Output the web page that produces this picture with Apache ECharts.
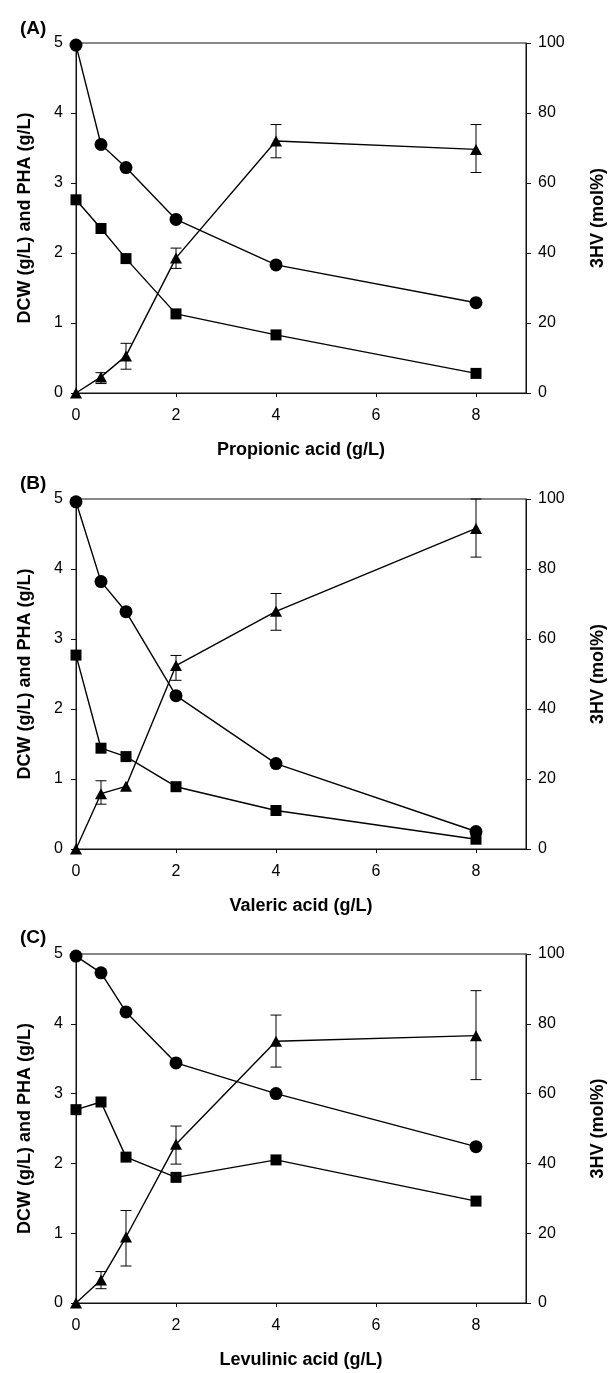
<!DOCTYPE html>
<html>
<head>
<meta charset="utf-8">
<script src="https://cdn.jsdelivr.net/npm/echarts@6/dist/echarts.min.js"></script>
<style>
html,body{margin:0;padding:0;background:#fff;}
#chart{width:608px;height:1373px;}
</style>
</head>
<body>
<div id="chart"></div>
<script>
// ---- data ----
const acidConc = [0, 0.5, 1, 2, 4, 8];
const panelLabels = ['(A)', '(B)', '(C)'];
const xTitles = ['Propionic acid (g/L)', 'Valeric acid (g/L)', 'Levulinic acid (g/L)'];
const leftTitle = 'DCW (g/L) and PHA (g/L)';
const rightTitle = '3HV (mol%)';

// Panel A - propionic acid
const dcwA = [4.97, 3.55, 3.22, 2.48, 1.83, 1.29];
const phaA = [2.76, 2.35, 1.92, 1.13, 0.83, 0.28];
const hvA = [0, 4.6, 10.6, 38.6, 72.0, 69.6];
const hvLoA = [null, 2.7, 6.8, 35.6, 67.2, 63.0];
const hvHiA = [null, 5.8, 14.2, 41.4, 76.7, 76.7];

// Panel B - valeric acid
const dcwB = [4.96, 3.82, 3.39, 2.19, 1.22, 0.25];
const phaB = [2.77, 1.44, 1.32, 0.89, 0.55, 0.14];
const hvB = [0, 15.8, 17.9, 52.4, 67.9, 91.6];
const hvLoB = [null, 12.8, null, 48.2, 62.5, 83.4];
const hvHiB = [null, 19.5, null, 55.3, 73.0, 100.0];

// Panel C - levulinic acid
const dcwC = [4.97, 4.73, 4.17, 3.44, 3.00, 2.24];
const phaC = [2.77, 2.88, 2.09, 1.80, 2.05, 1.46];
const hvC = [0, 6.6, 18.9, 45.5, 75.0, 76.6];
const hvLoC = [null, 4.1, 10.6, 39.8, 67.6, 64.0];
const hvHiC = [null, 9.0, 26.5, 50.7, 82.5, 89.5];

const panels = [
  {dcw: dcwA, pha: phaA, hv: hvA, lo: hvLoA, hi: hvHiA},
  {dcw: dcwB, pha: phaB, hv: hvB, lo: hvLoB, hi: hvHiB},
  {dcw: dcwC, pha: phaC, hv: hvC, lo: hvLoC, hi: hvHiC}
];

// ---- layout ----
const gridTops = [43, 499, 954];
const gridHeights = [350, 350, 349];
const titleTops = [14, 469, 923];
const FONT = '"Liberation Sans", Arial, sans-serif';

const pair = (xs, ys) => xs.map((x, i) => [x, ys[i]]);

const option = {
  backgroundColor: '#fff',
  animation: false,
  title: [], grid: [], xAxis: [], yAxis: [], series: []
};

panels.forEach((p, k) => {
  option.title.push({
    text: panelLabels[k], left: 15, top: titleTops[k],
    textStyle: {fontFamily: FONT, fontSize: 19, fontWeight: 'bold', color: '#000'}
  });
  option.grid.push({
    left: 76, top: gridTops[k], width: 450, height: gridHeights[k],
    containLabel: false, outerBoundsMode: 'none',
    show: true, borderColor: '#111', borderWidth: 1, backgroundColor: 'transparent'
  });
  option.xAxis.push({
    type: 'value', gridIndex: k, min: 0, max: 9, interval: 2,
    name: xTitles[k], nameLocation: 'middle', nameGap: 48,
    nameTextStyle: {fontFamily: FONT, fontSize: 18, fontWeight: 'bold', color: '#000'},
    axisLine: {show: true, onZero: false, lineStyle: {color: '#111', width: 1}},
    axisTick: {show: true, length: 4, lineStyle: {color: '#111'}},
    axisLabel: {fontFamily: FONT, fontSize: 16, color: '#000', margin: 15, showMaxLabel: false,
      formatter: v => (v === 9 ? '' : String(v))},
    splitLine: {show: false}
  });
  option.yAxis.push({
    type: 'value', gridIndex: k, min: 0, max: 5, interval: 1, position: 'left',
    name: leftTitle, nameLocation: 'middle', nameGap: 42, nameRotate: 90,
    nameTextStyle: {fontFamily: FONT, fontSize: 18, fontWeight: 'bold', color: '#000'},
    axisLine: {show: true, lineStyle: {color: '#111', width: 1}},
    axisTick: {show: true, length: 5, lineStyle: {color: '#111'}},
    axisLabel: {fontFamily: FONT, fontSize: 16, color: '#000', margin: 13},
    splitLine: {show: false}
  });
  option.yAxis.push({
    type: 'value', gridIndex: k, min: 0, max: 100, interval: 20, position: 'right',
    name: rightTitle, nameLocation: 'middle', nameGap: 63, nameRotate: 90,
    nameTextStyle: {fontFamily: FONT, fontSize: 18, fontWeight: 'bold', color: '#000'},
    axisLine: {show: true, lineStyle: {color: '#111', width: 1}},
    axisTick: {show: true, length: 5, lineStyle: {color: '#111'}},
    axisLabel: {fontFamily: FONT, fontSize: 16, color: '#000', margin: 12},
    splitLine: {show: false}
  });
  const yL = 2 * k, yR = 2 * k + 1;
  const lineStyle = {color: '#000', width: 1.4};
  option.series.push({
    type: 'line', xAxisIndex: k, yAxisIndex: yL, data: pair(acidConc, p.dcw),
    symbol: 'circle', symbolSize: 13, itemStyle: {color: '#000'}, lineStyle, z: 3
  });
  option.series.push({
    type: 'line', xAxisIndex: k, yAxisIndex: yL, data: pair(acidConc, p.pha),
    symbol: 'rect', symbolSize: 11, itemStyle: {color: '#000'}, lineStyle, z: 3
  });
  option.series.push({
    type: 'line', xAxisIndex: k, yAxisIndex: yR, data: pair(acidConc, p.hv),
    symbol: 'triangle', symbolSize: [12, 11], itemStyle: {color: '#000'}, lineStyle, z: 3
  });
  const errData = [];
  acidConc.forEach((x, i) => { if (p.lo[i] != null) errData.push([x, p.lo[i], p.hi[i]]); });
  option.series.push({
    type: 'custom', xAxisIndex: k, yAxisIndex: yR, data: errData, z: 4,
    encode: {x: 0, y: [1, 2]},
    renderItem: (params, api) => {
      const x = api.value(0);
      const a = api.coord([x, api.value(1)]);
      const b = api.coord([x, api.value(2)]);
      const w = 5.5;
      const st = {stroke: '#000', lineWidth: 1};
      return {type: 'group', children: [
        {type: 'line', shape: {x1: a[0], y1: a[1], x2: b[0], y2: b[1]}, style: st},
        {type: 'line', shape: {x1: a[0] - w, y1: a[1], x2: a[0] + w, y2: a[1]}, style: st},
        {type: 'line', shape: {x1: b[0] - w, y1: b[1], x2: b[0] + w, y2: b[1]}, style: st}
      ]};
    }
  });
});

const chart = echarts.init(document.getElementById('chart'), null, {renderer: 'canvas'});
chart.setOption(option);
</script>
</body>
</html>
